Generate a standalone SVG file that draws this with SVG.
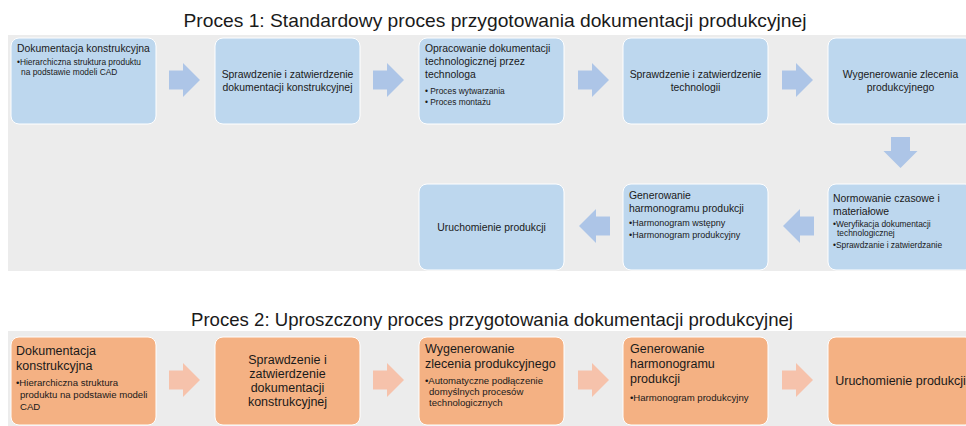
<svg xmlns="http://www.w3.org/2000/svg" xmlns:xlink="http://www.w3.org/1999/xlink" width="966" height="426" viewBox="0 0 966 426">
<style>
text{font-family:"Liberation Sans",Arial,sans-serif;fill:#1a1a1a}
.title{font-size:18.5px}
.panel{fill:#ececec}
.b{fill:#bdd7ee;stroke:#fff;stroke-width:1}
.o{fill:#f4b183;stroke:#fff;stroke-width:1}
.h{font-size:10.4px}
.s{font-size:8.4px}
.s9{font-size:9px}
.h2{font-size:12.5px}
.s2{font-size:9.6px}
.c{text-anchor:middle}
.ab{fill:#adc5e7}
.ao{fill:#f6c2ab}
</style>
<defs>
<path id="arr" d="M0,-9.5 H14 V-17 L31,0 L14,17 V9.5 H0 Z"/>
</defs>
<rect width="966" height="426" fill="#fff"/>
<text class="title" x="495" y="27" text-anchor="middle" textLength="623" lengthAdjust="spacingAndGlyphs">Proces 1: Standardowy proces przygotowania dokumentacji produkcyjnej</text>
<rect class="panel" x="8" y="35" width="960" height="236"/>
<text class="title" x="492" y="326" text-anchor="middle" textLength="602" lengthAdjust="spacingAndGlyphs">Proces 2: Uproszczony proces przygotowania dokumentacji produkcyjnej</text>
<rect class="panel" x="8" y="331" width="960" height="100"/>

<g id="connectors">
<use xlink:href="#arr" class="ab" transform="translate(169,80)"/>
<use xlink:href="#arr" class="ab" transform="translate(373,80)"/>
<use xlink:href="#arr" class="ab" transform="translate(578,80)"/>
<use xlink:href="#arr" class="ab" transform="translate(782,80)"/>
<use xlink:href="#arr" class="ab" transform="translate(900.5,137) rotate(90)"/>
<use xlink:href="#arr" class="ab" transform="translate(814,226) rotate(180)"/>
<use xlink:href="#arr" class="ab" transform="translate(610,226) rotate(180)"/>
<use xlink:href="#arr" class="ao" transform="translate(169,380)"/>
<use xlink:href="#arr" class="ao" transform="translate(373,380)"/>
<use xlink:href="#arr" class="ao" transform="translate(578,380)"/>
<use xlink:href="#arr" class="ao" transform="translate(782,380)"/>
</g>

<g id="p1n1">
<rect class="b" x="11" y="38" width="145" height="86" rx="8"/>
<text class="h" x="17" y="52">Dokumentacja konstrukcyjna</text>
<text class="s" x="17" y="65">•Hierarchiczna struktura produktu</text>
<text class="s" x="21" y="75">na podstawie modeli CAD</text>
</g>
<g id="p1n2">
<rect class="b" x="215" y="38" width="145" height="86" rx="8"/>
<text class="h c" x="287.5" y="78">Sprawdzenie i zatwierdzenie</text>
<text class="h c" x="287.5" y="91">dokumentacji konstrukcyjnej</text>
</g>
<g id="p1n3">
<rect class="b" x="419" y="38" width="145" height="86" rx="8"/>
<text class="h" x="425" y="52">Opracowanie dokumentacji</text>
<text class="h" x="425" y="65">technologicznej przez</text>
<text class="h" x="425" y="78">technologa</text>
<text class="s" x="425" y="94">• Proces wytwarzania</text>
<text class="s" x="425" y="105">• Proces montażu</text>
</g>
<g id="p1n4">
<rect class="b" x="623" y="38" width="145" height="86" rx="8"/>
<text class="h c" x="695.5" y="78">Sprawdzenie i zatwierdzenie</text>
<text class="h c" x="695.5" y="91">technologii</text>
</g>
<g id="p1n5">
<rect class="b" x="828" y="38" width="145" height="86" rx="8"/>
<text class="h c" x="900.5" y="78">Wygenerowanie zlecenia</text>
<text class="h c" x="900.5" y="91">produkcyjnego</text>
</g>
<g id="p1n6">
<rect class="b" x="828" y="184" width="145" height="86" rx="8"/>
<text class="h" x="833" y="202">Normowanie czasowe i</text>
<text class="h" x="833" y="215">materiałowe</text>
<text class="s" x="833" y="227">•Weryfikacja dokumentacji</text>
<text class="s" x="837" y="236">technologicznej</text>
<text class="s" x="833" y="248">•Sprawdzanie i zatwierdzanie</text>
</g>
<g id="p1n7">
<rect class="b" x="623" y="184" width="145" height="86" rx="8"/>
<text class="h" x="629" y="199">Generowanie</text>
<text class="h" x="629" y="212">harmonogramu produkcji</text>
<text class="s9" x="629" y="226">•Harmonogram wstępny</text>
<text class="s9" x="629" y="238">•Harmonogram produkcyjny</text>
</g>
<g id="p1n8">
<rect class="b" x="419" y="184" width="145" height="86" rx="8"/>
<text class="h c" x="491.5" y="231">Uruchomienie produkcji</text>
</g>

<g id="p2n1">
<rect class="o" x="11" y="337" width="145" height="88" rx="8"/>
<text class="h2" x="16" y="355">Dokumentacja</text>
<text class="h2" x="16" y="370">konstrukcyjna</text>
<text class="s2" x="16" y="386">•Hierarchiczna struktura</text>
<text class="s2" x="20" y="398">produktu na podstawie modeli</text>
<text class="s2" x="20" y="410">CAD</text>
</g>
<g id="p2n2">
<rect class="o" x="215" y="337" width="145" height="88" rx="8"/>
<text class="h2 c" x="287.5" y="364">Sprawdzenie i</text>
<text class="h2 c" x="287.5" y="378">zatwierdzenie</text>
<text class="h2 c" x="287.5" y="392">dokumentacji</text>
<text class="h2 c" x="287.5" y="406">konstrukcyjnej</text>
</g>
<g id="p2n3">
<rect class="o" x="419" y="337" width="145" height="88" rx="8"/>
<text class="h2" x="425" y="353">Wygenerowanie</text>
<text class="h2" x="425" y="368">zlecenia produkcyjnego</text>
<text class="s2" x="425" y="384">•Automatyczne podłączenie</text>
<text class="s2" x="429" y="395">domyślnych procesów</text>
<text class="s2" x="429" y="406">technologicznych</text>
</g>
<g id="p2n4">
<rect class="o" x="623" y="337" width="145" height="88" rx="8"/>
<text class="h2" x="630" y="353">Generowanie</text>
<text class="h2" x="630" y="368">harmonogramu</text>
<text class="h2" x="630" y="383">produkcji</text>
<text class="s2" x="630" y="401">•Harmonogram produkcyjny</text>
</g>
<g id="p2n5">
<rect class="o" x="828" y="337" width="145" height="88" rx="8"/>
<text class="h2 c" x="900.5" y="385">Uruchomienie produkcji</text>
</g>
</svg>
